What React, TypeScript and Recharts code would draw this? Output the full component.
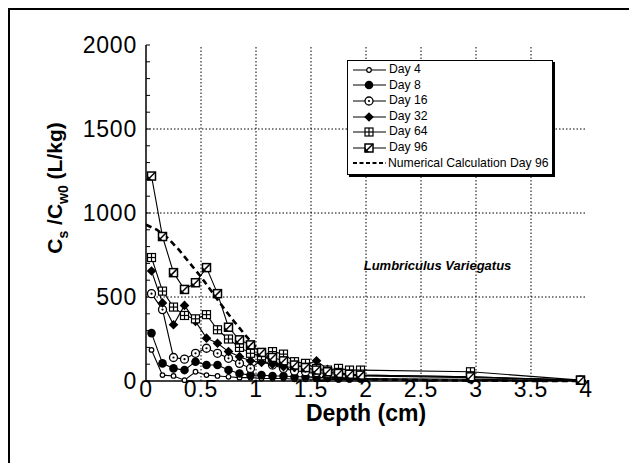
import { LineChart, Line, XAxis, YAxis, ReferenceLine, ReferenceDot, Legend } from 'recharts'

// sampling depths (cm) of the measured profiles
const depths = [0.05, 0.15, 0.25, 0.35, 0.45, 0.55, 0.65, 0.75, 0.85, 0.95, 1.05, 1.15, 1.25, 1.35, 1.45, 1.55, 1.65, 1.75, 1.85, 1.95, 2.95, 3.95]

const day4 = [185, 35, 30, 5, 55, 35, 30, 25, 20, 20, 15, 15, 15, 10, 10, 10, 10, 8, 8, 8, 5, 2]
const day8 = [285, 105, 75, 65, 115, 95, 95, 65, 45, 35, 35, 30, 30, 25, 25, 20, 20, 15, 15, 15, 10, 3]
const day16 = [520, 425, 140, 130, 165, 195, 165, 135, 105, 75, 125, 95, 75, 60, 55, 50, 45, 40, 35, 30, 20, 5]
const day32 = [655, 465, 335, 450, 355, 255, 225, 175, 145, 120, 110, 100, 85, 80, 95, 120, 70, 50, 40, 35, 25, 5]
const day64 = [735, 535, 440, 390, 370, 395, 305, 250, 200, 165, 150, 175, 160, 115, 105, 75, 65, 75, 65, 65, 55, 5]
const day96 = [1220, 860, 645, 545, 585, 675, 520, 320, 245, 215, 170, 140, 120, 95, 80, 65, 55, 45, 40, 35, 25, 5]

const calcDepths = [0, 0.1, 0.2, 0.3, 0.4, 0.5, 0.6, 0.7, 0.8, 0.9, 1, 1.1, 1.2, 1.3, 1.4, 1.5, 1.6, 1.8, 2, 2.5, 3, 3.5, 4]
const calcValues = [930, 900, 850, 780, 700, 620, 530, 440, 355, 275, 200, 140, 100, 70, 50, 35, 25, 15, 10, 5, 3, 1, 0]

const xTicks = [0, 0.5, 1, 1.5, 2, 2.5, 3, 3.5, 4]
const xGrid = [0.5, 1, 1.5, 2, 2.5, 3, 3.5]
const yGrid = [500, 1000, 1500]
const yTicks = [0, 100, 200, 300, 400, 500, 600, 700, 800, 900, 1000, 1100, 1200, 1300, 1400, 1500, 1600, 1700, 1800, 1900, 2000]

const series = [
  { key: 'day4', name: 'Day 4', values: day4, shape: 'small' },
  { key: 'day8', name: 'Day 8', values: day8, shape: 'filled' },
  { key: 'day16', name: 'Day 16', values: day16, shape: 'ring' },
  { key: 'day32', name: 'Day 32', values: day32, shape: 'diamond' },
  { key: 'day64', name: 'Day 64', values: day64, shape: 'grid' },
  { key: 'day96', name: 'Day 96', values: day96, shape: 'half' },
]

const rows = depths.map((d, i) => {
  const row: Record<string, number> = { depth: d }
  series.forEach((s) => { row[s.key] = s.values[i] })
  return row
})
const calcRows = calcDepths.map((d, i) => ({ depth: d, calc: calcValues[i] }))

const FONT = '"Liberation Sans", Arial, sans-serif'

const Marker = ({ cx, cy, shape }: { cx: number; cy: number; shape: string }) => {
  if (cx == null || cy == null) return null
  const s = 4
  switch (shape) {
    case 'small':
      return <circle cx={cx} cy={cy} r={2.3} fill="#fff" stroke="#000" strokeWidth={1.2} />
    case 'filled':
      return <circle cx={cx} cy={cy} r={4.3} fill="#000" />
    case 'ring':
      return (
        <g>
          <circle cx={cx} cy={cy} r={4} fill="#fff" stroke="#000" strokeWidth={1.3} />
          <circle cx={cx} cy={cy} r={1.1} fill="#000" />
        </g>
      )
    case 'diamond':
      return <polygon points={`${cx},${cy - 4.8} ${cx + 4.8},${cy} ${cx},${cy + 4.8} ${cx - 4.8},${cy}`} fill="#000" />
    case 'grid':
      return (
        <g stroke="#000" strokeWidth={1.2}>
          <rect x={cx - s} y={cy - s} width={2 * s} height={2 * s} fill="#fff" />
          <line x1={cx} y1={cy - s} x2={cx} y2={cy + s} />
          <line x1={cx - s} y1={cy} x2={cx + s} y2={cy} />
        </g>
      )
    default:
      return (
        <g stroke="#000">
          <rect x={cx - s} y={cy - s} width={2 * s} height={2 * s} fill="#fff" strokeWidth={1.5} />
          <line x1={cx - s} y1={cy + s} x2={cx + s} y2={cy - s} strokeWidth={1.5} />
          <polygon points={`${cx - s},${cy + s} ${cx - s},${cy} ${cx},${cy + s}`} fill="#000" strokeWidth={0.5} />
        </g>
      )
  }
}

const LegendBox = () => (
  <div
    style={{
      border: '1.5px solid #000',
      boxShadow: '2px 2px 0 #000',
      background: '#fff',
      width: 200,
      padding: '1px 0 3px 4px',
      fontFamily: FONT,
      fontSize: 12.2,
      lineHeight: '15.6px',
      color: '#000',
    }}
  >
    {series.map((s) => (
      <div key={s.key} style={{ display: 'flex', alignItems: 'center', height: 15.6 }}>
        <svg width={36} height={12} style={{ marginRight: 1 }}>
          <line x1={1} y1={6} x2={34} y2={6} stroke="#000" strokeWidth={1.2} />
          <Marker cx={17} cy={6} shape={s.shape} />
        </svg>
        <span>{s.name}</span>
      </div>
    ))}
    <div style={{ display: 'flex', alignItems: 'center', height: 15.6 }}>
      <svg width={36} height={12} style={{ marginRight: 0 }}>
        <line x1={1} y1={6} x2={34} y2={6} stroke="#000" strokeWidth={2.2} strokeDasharray="4 2.5" />
      </svg>
      <span>Numerical Calculation Day 96</span>
    </div>
  </div>
)

const YTitle = () => (
  <text
    transform="translate(52,178) rotate(-90)"
    textAnchor="middle"
    fontFamily={FONT}
    fontWeight="bold"
    fontSize={21}
    fill="#000"
  >
    C
    <tspan fontSize={14} dy={6}>s</tspan>
    <tspan dy={-6}> /C</tspan>
    <tspan fontSize={14} dy={6}>w0</tspan>
    <tspan dy={-6}> (L/kg)</tspan>
  </text>
)

const XTitle = () => (
  <text x={356} y={411} textAnchor="middle" fontFamily={FONT} fontWeight="bold" fontSize={23} fill="#000">
    Depth (cm)
  </text>
)

export default function App() {
  const tickStyle = { fontFamily: FONT, fontSize: 23, fill: '#000', letterSpacing: 0.8 }
  return (
    <div style={{ position: 'relative', width: 620, height: 470, border: '2px solid #000', boxSizing: 'content-box' }}>
      <LineChart
        width={618}
        height={445}
        data={rows}
        margin={{ top: 35, right: 42, bottom: 0, left: 0 }}
      >
        <XAxis
          dataKey="depth"
          type="number"
          domain={[0, 4]}
          ticks={xTicks}
          height={74}
          axisLine={{ stroke: '#000', strokeWidth: 1.5 }}
          tickLine={false}
          tickSize={0}
          tickMargin={0}
          tick={tickStyle}
          tickFormatter={(v: number) => String(v)}
          allowDataOverflow
          label={<XTitle />}
        />
        <XAxis
          xAxisId="top"
          orientation="top"
          dataKey="depth"
          type="number"
          domain={[0, 4]}
          ticks={xTicks}
          height={0}
          axisLine={{ stroke: '#000', strokeWidth: 1.5 }}
          tickLine={false}
          tick={false}
        />
        <YAxis
          type="number"
          domain={[0, 2000]}
          ticks={yTicks}
          interval={0}
          width={136}
          axisLine={{ stroke: '#000', strokeWidth: 1.5 }}
          tickLine={{ stroke: '#000', strokeWidth: 1 }}
          tickSize={-4}
          tickMargin={13}
          tick={tickStyle}
          tickFormatter={(v: number) => (v % 500 === 0 ? String(v) : '')}
          label={<YTitle />}
        />
        <YAxis
          yAxisId="right"
          orientation="right"
          type="number"
          domain={[0, 2000]}
          ticks={yTicks}
          interval={0}
          width={0}
          axisLine={{ stroke: '#000', strokeWidth: 1.5 }}
          tickLine={{ stroke: '#000', strokeWidth: 1 }}
          tickSize={-4}
          tick={false}
        />
        {xGrid.map((v) => (
          <ReferenceLine key={`vx${v}`} x={v} stroke="#000" strokeWidth={1} strokeDasharray="1.5 2" />
        ))}
        {yGrid.map((v) => (
          <ReferenceLine key={`hy${v}`} y={v} stroke="#000" strokeWidth={1} strokeDasharray="1.5 2" />
        ))}
        <Line
          data={calcRows}
          dataKey="calc"
          name="Numerical Calculation Day 96"
          stroke="#000"
          strokeWidth={2.6}
          strokeDasharray="6 4"
          dot={false}
          type="linear"
          isAnimationActive={false}
        />
        {series.map((s) => (
          <Line
            key={s.key}
            dataKey={s.key}
            name={s.name}
            stroke="#000"
            strokeWidth={1.1}
            type="linear"
            isAnimationActive={false}
            dot={(p: any) => <Marker key={`${s.key}-${p.index}`} cx={p.cx} cy={p.cy} shape={s.shape} />}
          />
        ))}
        <ReferenceDot
          x={2.65}
          y={690}
          r={0}
          fill="none"
          stroke="none"
          label={{
            value: 'Lumbriculus Variegatus',
            position: 'center',
            fontFamily: FONT,
            fontWeight: 'bold',
            fontStyle: 'italic',
            fontSize: 13,
            fill: '#000',
          }}
        />
        <Legend
          layout="vertical"
          align="center"
          verticalAlign="middle"
          content={<LegendBox />}
          wrapperStyle={{ left: 337, top: 50, width: 'auto' }}
        />
      </LineChart>
    </div>
  )
}
